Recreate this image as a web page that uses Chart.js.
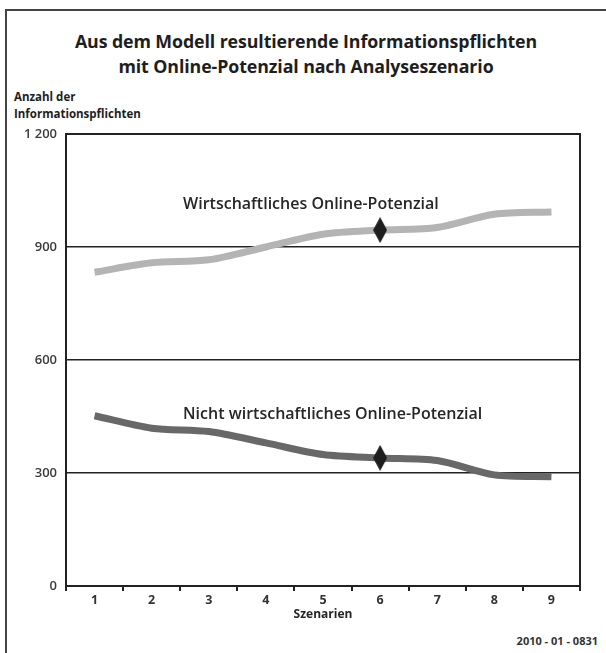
<!DOCTYPE html>
<html>
<head>
<meta charset="utf-8">
<script src="https://cdn.jsdelivr.net/npm/chart.js@4/dist/chart.umd.min.js"></script>
<style>
    body { margin: 0; background: #fff; font-family: 'Open Sans', sans-serif; }
    #wrap { position: relative; width: 606px; height: 653px; overflow: hidden; }
    #frame { position: absolute; left: 5px; top: 9px; width: 620px; height: 660px;
             border-top: 2px solid #444; border-left: 2px solid #444; }
    #title { position: absolute; left: 0; top: 29px; width: 612px; text-align: center;
             font-weight: 700; font-size: 17.8px; line-height: 25px; color: #1e1e1e; letter-spacing: -0.1px; }
    #ytitle { position: absolute; left: 14px; top: 88px; font-weight: 700; font-size: 11.5px;
              line-height: 17px; color: #1e1e1e; }
    #code { position: absolute; right: 8px; top: 633px; font-weight: 700; font-size: 11px; color: #333; }
    canvas { position: absolute; left: 0; top: 0; }
</style>
</head>
<body>
<div id="wrap">
    <div id="frame"></div>
    <div id="title">Aus dem Modell resultierende Informationspflichten<br>mit Online-Potenzial nach Analyseszenario</div>
    <div id="ytitle">Anzahl der<br>Informationspflichten</div>
    <div id="code">2010 - 01 - 0831</div>
    <canvas id="chart" width="606" height="653"></canvas>
</div>
<script>
// Szenarien 1..9
var scenarios = ['1', '2', '3', '4', '5', '6', '7', '8', '9'];
var seriesNames = ['Wirtschaftliches Online-Potenzial', 'Nicht wirtschaftliches Online-Potenzial'];
var econValues = [833, 858, 866, 900, 934, 945, 952, 987, 993];
var nonEconValues = [452, 419, 410, 380, 349, 340, 333, 295, 290];
var markerScenario = ['6'];
var yTicks = [0, 300, 600, 900, 1200];

// Raute als Punktsymbol
var diamond = document.createElement('canvas');
diamond.width = 14;
diamond.height = 26;
var dctx = diamond.getContext('2d');
dctx.fillStyle = '#1e1e1e';
dctx.beginPath();
dctx.moveTo(7, 0);
dctx.lineTo(14, 13);
dctx.lineTo(7, 26);
dctx.lineTo(0, 13);
dctx.closePath();
dctx.fill();

function markerRadius() {
    return scenarios.map(function (s) { return markerScenario.indexOf(s) >= 0 ? 6 : 0; });
}

function fmt(v) {
    return String(v).replace(/\B(?=(\d{3})+(?!\d))/g, ' ');
}

// Rahmen rechts/oben + Beschriftung der Linien
var extras = {
    id: 'extras',
    afterDraw: function (chart, args, opts) {
        var ctx = chart.ctx, a = chart.chartArea;
        var xs = chart.scales.x, ys = chart.scales.y;
        ctx.save();
        ctx.strokeStyle = '#222';
        ctx.lineWidth = 2;
        ctx.beginPath();
        ctx.moveTo(a.left, a.top);
        ctx.lineTo(a.right, a.top);
        ctx.lineTo(a.right, a.bottom);
        ctx.stroke();

        ctx.fillStyle = '#262626';
        ctx.font = '600 16px "Open Sans"';
        ctx.textBaseline = 'middle';
        ctx.textAlign = 'left';
        opts.labels.forEach(function (l, i) {
            ctx.fillText(seriesNames[i], xs.getPixelForValue(l[0]), ys.getPixelForValue(l[1]));
        });

        ctx.font = '700 12px "Open Sans"';
        ctx.textAlign = 'center';
        ctx.fillText('Szenarien', (a.left + a.right) / 2, a.bottom + 29);
        ctx.restore();
    }
};

new Chart(document.getElementById('chart'), {
    type: 'line',
    data: {
        labels: scenarios,
        datasets: [{
            label: seriesNames[0],
            data: econValues,
            borderColor: '#b4b4b4',
            borderWidth: 7,
            tension: 0.3,
            pointStyle: diamond,
            pointRadius: markerRadius(),
            pointHoverRadius: 0
        }, {
            label: seriesNames[1],
            data: nonEconValues,
            borderColor: '#686868',
            borderWidth: 7,
            tension: 0.3,
            pointStyle: diamond,
            pointRadius: markerRadius(),
            pointHoverRadius: 0
        }]
    },
    options: {
        responsive: false,
        animation: false,
        layout: { padding: { left: 0, right: 26, top: 134, bottom: 0 } },
        plugins: {
            legend: { display: false },
            tooltip: { enabled: false },
            extras: { labels: [[1.55, 1012], [1.55, 455]] }
        },
        scales: {
            x: {
                offset: true,
                afterFit: function (s) { s.height = 67; },
                grid: { offset: true, drawOnChartArea: false, drawTicks: true, tickLength: 5, color: '#222', lineWidth: 2 },
                border: { display: true, color: '#222', width: 2 },
                ticks: { color: '#333', padding: 2, font: { family: 'Open Sans', size: 12.5, weight: 700 } }
            },
            y: {
                min: 0,
                max: 1200,
                afterFit: function (s) { s.width = 66; },
                afterBuildTicks: function (s) { s.ticks = yTicks.map(function (v) { return { value: v }; }); },
                grid: { color: '#222', lineWidth: 1.5, drawTicks: false },
                border: { display: true, color: '#222', width: 2 },
                ticks: {
                    color: '#3a3a3a', padding: 9,
                    font: { family: 'Open Sans', size: 13, weight: 600 },
                    callback: function (v) { return fmt(v); }
                }
            }
        }
    },
    plugins: [extras]
});
</script>
</body>
</html>
